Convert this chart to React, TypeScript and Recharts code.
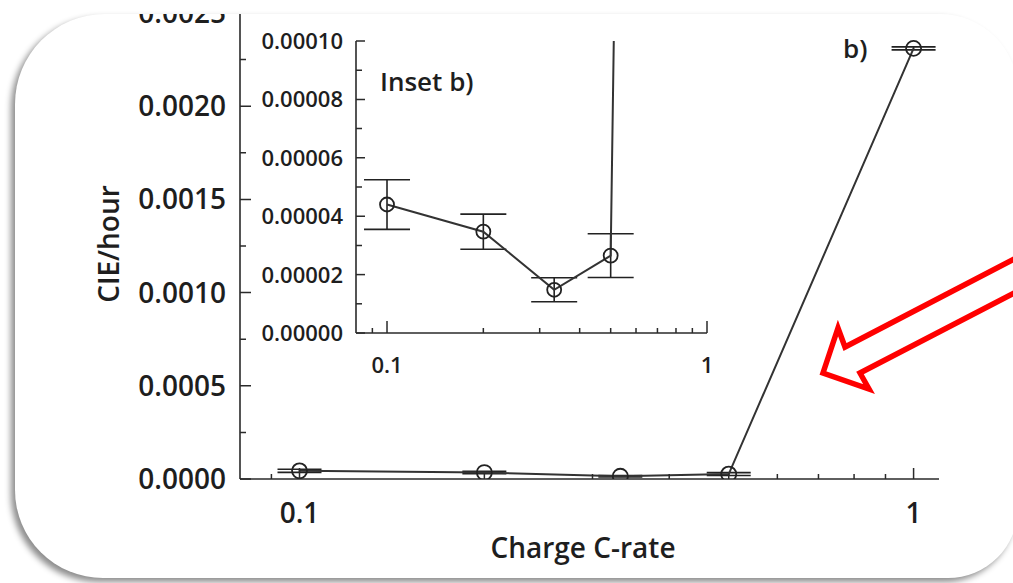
import React from 'react';
import { ComposedChart, Line, XAxis, YAxis, ErrorBar } from 'recharts';

// ---- data ----
const cRates = [0.1, 0.2, 0.333, 0.5, 1.0];
const ciePerHour = [0.000044, 0.0000347, 0.0000148, 0.0000265, 0.00231];
const cieErr = [0.0000085, 0.000006, 0.0000041, 0.0000075, 0.000008];

const xTicks = [0.09, 0.1, 0.2, 0.3, 0.4, 0.5, 0.6, 0.7, 0.8, 0.9, 1];
const xTickLabels = ['', '0.1', '', '', '', '', '', '', '', '', '1'];

const mainYTicks = [0, 0.00025, 0.0005, 0.00075, 0.001, 0.00125, 0.0015, 0.00175, 0.002, 0.00225, 0.0025];
const mainYLabels = ['0.0000', '', '0.0005', '', '0.0010', '', '0.0015', '', '0.0020', '', '0.0025'];

const insetYTicks = [0, 0.00001, 0.00002, 0.00003, 0.00004, 0.00005, 0.00006, 0.00007, 0.00008, 0.00009, 0.0001];
const insetYLabels = ['0.00000', '', '0.00002', '', '0.00004', '', '0.00006', '', '0.00008', '', '0.00010'];

const data = cRates.map((c, i) => ({ c, v: ciePerHour[i], err: cieErr[i] }));

const INK = '#2a2a2a';
const FONT = '"Open Sans", "DejaVu Sans", sans-serif';

type Side = 'left' | 'right' | 'top' | 'bottom';
function makeTick(side: Side, ticks: number[], labels: string[], margin: number, majorLen: number, minorLen: number, showLabel: boolean, fontSize: number) {
  return (p: any) => {
    const v = p.payload.value;
    const i = ticks.findIndex((t) => Math.abs(t - v) < Math.abs(v) * 1e-6 + 1e-12);
    const label = i >= 0 ? labels[i] : '';
    const major = label !== '';
    const len = major ? majorLen : minorLen;
    let x1 = p.x, x2 = p.x, y1 = p.y, y2 = p.y;
    let anchor: any = 'middle';
    if (side === 'left') { x1 = p.x + margin; x2 = x1 + len; anchor = 'end'; }
    if (side === 'right') { x1 = p.x - margin; x2 = x1 - len; anchor = 'start'; }
    if (side === 'bottom') { y1 = p.y - margin; y2 = y1 - len; }
    if (side === 'top') { y1 = p.y + margin; y2 = y1 + len; }
    return (
      <g>
        <line x1={x1} y1={y1} x2={x2} y2={y2} stroke={INK} strokeWidth={1.5} />
        {showLabel && major ? (
          <text x={p.x} y={p.y} dy="0.36em" textAnchor={anchor} fontFamily={FONT} fontWeight={600} fontSize={fontSize} fill="#1e1e1e">
            {label}
          </text>
        ) : null}
      </g>
    );
  };
}

const axisLine = { stroke: INK, strokeWidth: 1.6 };

function MainChart() {
  return (
    <ComposedChart width={1013} height={583} data={data} margin={{ top: 13, right: 74, bottom: 0, left: 0 }}>
      <XAxis xAxisId="b" dataKey="c" type="number" scale="log" domain={[0.08, 1.1]} allowDataOverflow ticks={xTicks} interval={0}
        height={104} tickSize={0} tickMargin={34} tickLine={false} axisLine={axisLine}
        tick={makeTick('bottom', xTicks, xTickLabels, 34, 11, 5, true, 28)} />
      <XAxis xAxisId="t" orientation="top" dataKey="c" type="number" scale="log" domain={[0.08, 1.1]} allowDataOverflow ticks={xTicks} interval={0}
        height={0} tickSize={0} tickMargin={0} tickLine={false} axisLine={{ stroke: '#e4e4e4', strokeWidth: 1 }}
        tick={makeTick('top', xTicks, xTickLabels, 0, 10, 4, false, 28)} />
      <YAxis yAxisId="l" type="number" domain={[0, 0.0025]} allowDataOverflow ticks={mainYTicks} interval={0}
        width={240} tickSize={0} tickMargin={14} tickLine={false} axisLine={axisLine}
        tick={makeTick('left', mainYTicks, mainYLabels, 14, 11, 6, true, 28)} />
      <YAxis yAxisId="r" orientation="right" type="number" domain={[0, 0.0025]} allowDataOverflow ticks={mainYTicks} interval={0}
        width={0} tickSize={0} tickMargin={0} tickLine={false} axisLine={axisLine}
        tick={makeTick('right', mainYTicks, mainYLabels, 0, 11, 6, false, 28)} />
      <Line xAxisId="t" yAxisId="r" dataKey="v" stroke="none" dot={false} activeDot={false} isAnimationActive={false} />
      <Line xAxisId="b" yAxisId="l" dataKey="v" stroke="#333" strokeWidth={2}
        dot={{ r: 7.5, fill: 'none', stroke: '#222', strokeWidth: 1.8 }} activeDot={false} isAnimationActive={false}>
        <ErrorBar dataKey="err" width={22} stroke="#222" strokeWidth={1.6} direction="y" />
      </Line>
    </ComposedChart>
  );
}

function InsetChart() {
  return (
    <ComposedChart width={500} height={380} data={data} margin={{ top: 21, right: 33, bottom: 0, left: 0 }}>
      <XAxis xAxisId="b" dataKey="c" type="number" scale="log" domain={[0.08, 1]} allowDataOverflow ticks={xTicks} interval={0}
        height={67} tickSize={0} tickMargin={32} tickLine={false} axisLine={axisLine}
        tick={makeTick('bottom', xTicks, xTickLabels, 32, 12, 5, true, 22)} />
      <XAxis xAxisId="t" orientation="top" dataKey="c" type="number" scale="log" domain={[0.08, 1]} allowDataOverflow ticks={xTicks} interval={0}
        height={0} tickSize={0} tickMargin={0} tickLine={false} axisLine={axisLine}
        tick={makeTick('top', xTicks, xTickLabels, 0, 12, 5, false, 22)} />
      <YAxis yAxisId="l" type="number" domain={[0, 0.0001]} allowDataOverflow ticks={insetYTicks} interval={0}
        width={116} tickSize={0} tickMargin={13} tickLine={false} axisLine={axisLine}
        tick={makeTick('left', insetYTicks, insetYLabels, 13, 9, 6, true, 22)} />
      <YAxis yAxisId="r" orientation="right" type="number" domain={[0, 0.0001]} allowDataOverflow ticks={insetYTicks} interval={0}
        width={0} tickSize={0} tickMargin={0} tickLine={false} axisLine={axisLine}
        tick={makeTick('right', insetYTicks, insetYLabels, 0, 11, 8, false, 22)} />
      <Line xAxisId="t" yAxisId="r" dataKey="v" stroke="none" dot={false} activeDot={false} isAnimationActive={false} />
      <Line xAxisId="b" yAxisId="l" dataKey="v" stroke="#333" strokeWidth={2}
        dot={{ r: 7, fill: 'none', stroke: '#222', strokeWidth: 1.8 }} activeDot={false} isAnimationActive={false}>
        <ErrorBar dataKey="err" width={23} stroke="#222" strokeWidth={1.6} direction="y" />
      </Line>
    </ComposedChart>
  );
}

export default function App() {
  return (
    <div style={{ position: 'fixed', left: 0, top: 0, width: 1013, height: 583, background: '#fff', overflow: 'hidden', fontFamily: FONT }}>
      <div style={{
        position: 'absolute', left: 15, top: 14, width: 1003, height: 564, background: '#fff',
        borderRadius: '90px 78px 70px 88px', overflow: 'hidden', boxShadow: '-4px 4px 6px rgba(0,0,0,0.45)'
      }}>
        <div style={{ position: 'absolute', left: -15, top: -14, width: 1013, height: 583 }}>
          <div style={{ position: 'absolute', left: 0, top: 0 }}>
            <MainChart />
          </div>
          <div style={{ position: 'absolute', left: 240, top: 20 }}>
            <InsetChart />
          </div>
        </div>
      </div>
      <svg width={1013} height={583} style={{ position: 'absolute', left: 0, top: 0, pointerEvents: 'none' }}>
        <text x={119} y={244} transform="rotate(-90,119,244)" textAnchor="middle" fontFamily={FONT} fontWeight={600} fontSize={28} fill="#1e1e1e">CIE/hour</text>
        <text x={583} y={558} textAnchor="middle" fontFamily={FONT} fontWeight={600} fontSize={28} fill="#1e1e1e">Charge C-rate</text>
        <text x={380} y={91} fontFamily={FONT} fontWeight={600} fontSize={26} fill="#1e1e1e">Inset b)</text>
        <text x={843} y={58} fontFamily={FONT} fontWeight={600} fontSize={26} fill="#1e1e1e">b)</text>
        <path d="M 1020 256 L 845 347 L 838 328 L 823 373 L 869 389 L 860 373 L 1020 290"
          fill="none" stroke="#ff0000" strokeWidth={5.5} strokeLinejoin="miter" />
      </svg>
    </div>
  );
}
